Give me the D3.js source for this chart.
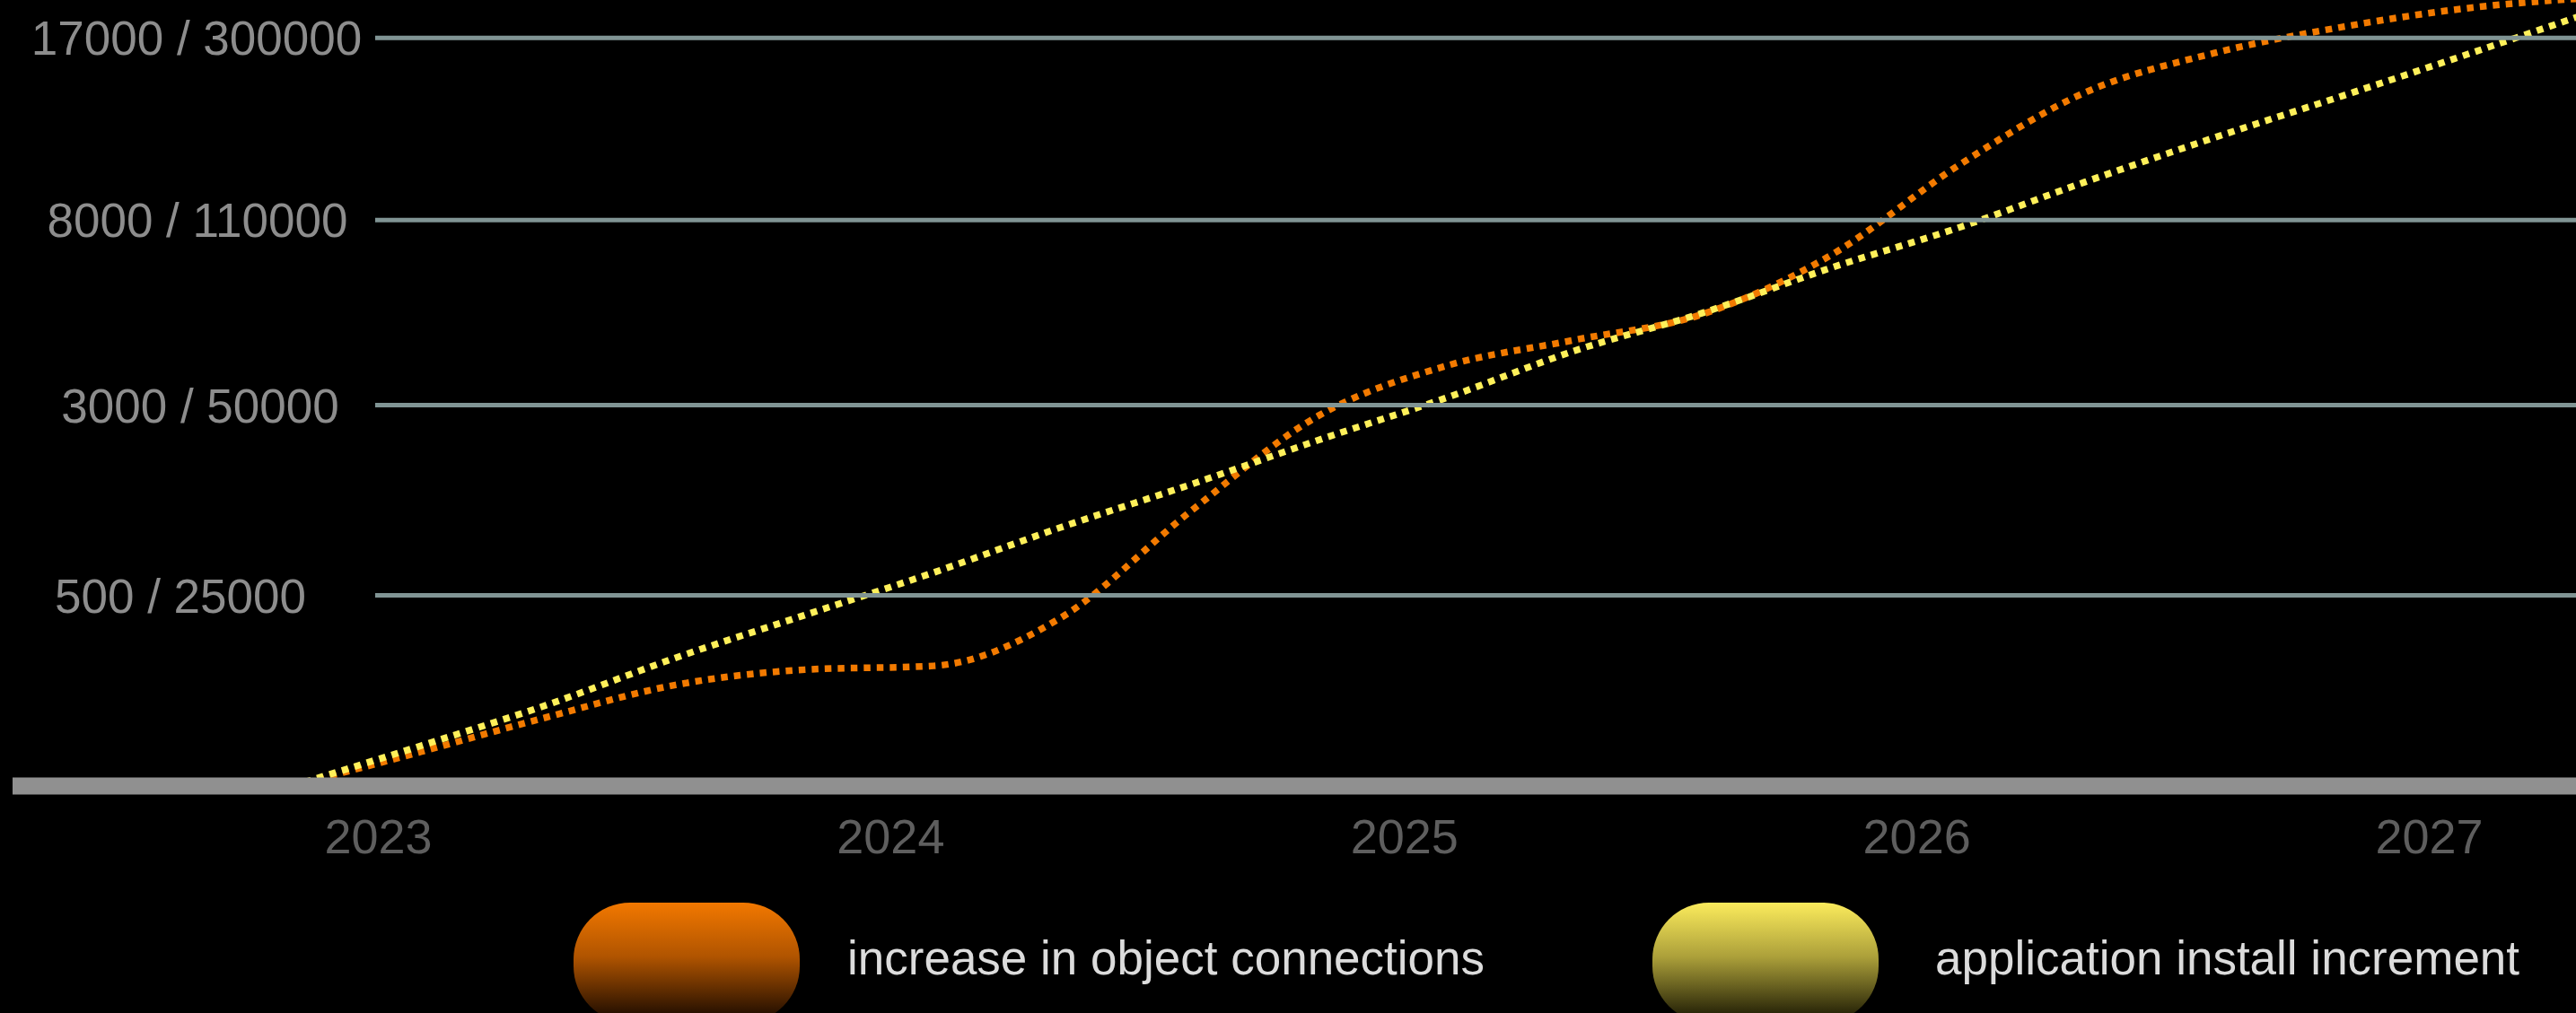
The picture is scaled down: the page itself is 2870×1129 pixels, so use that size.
<!DOCTYPE html>
<html>
<head>
<meta charset="utf-8">
<script src="https://cdn.jsdelivr.net/npm/d3@7"></script>
<style>
  html, body { margin: 0; padding: 0; background: #000; overflow: hidden; }
  svg { display: block; }
  text { font-family: "Liberation Sans", Arial, Helvetica, sans-serif; }
</style>
</head>
<body>
<svg id="chart" width="2870" height="1129"></svg>
<script>
// ---------- data ----------
const dates = [
  "2022-11-01", "2023-02-01", "2023-05-01", "2023-08-01", "2023-11-01",
  "2024-02-01", "2024-05-01", "2024-08-01", "2024-11-01",
  "2025-02-01", "2025-05-01", "2025-08-01", "2025-11-01",
  "2026-02-01", "2026-05-01", "2026-08-01", "2026-11-01",
  "2027-02-01", "2027-05-01"
];
const objectConnections = [
  0, 90, 180, 265, 305, 315, 440, 1590, 2860, 4070,
  4750, 5450, 7050, 10750, 14300, 16250, 17550, 18500, 19000
];
const appInstalls = [
  0, 5300, 10600, 16800, 22400, 28000, 33900, 39500, 45400, 52500,
  67400, 79800, 94500, 107700, 149700, 195900, 239800, 284700, 329000
];
const yTicksObject = [500, 3000, 8000, 17000];
const yTicksApp = [25000, 50000, 110000, 300000];
const yearTicks = [2023, 2024, 2025, 2026, 2027];
const seriesNames = ["increase in object connections", "application install increment"];
const seriesColors = ["#f27a00", "#fff05a"];

// ---------- layout ----------
const W = 2870, H = 1129;
const baseY = 876;
const yRange = [baseY, 663.5, 451.5, 245.3, 42.3];
const yLabelCenterX = [201, 223, 220, 219];
const parse = d3.timeParse("%Y-%m-%d");

const svg = d3.select("#chart");

const x = d3.scaleTime()
  .domain([new Date(2023, 0, 1), new Date(2027, 0, 1)])
  .range([421, 2706]);
const yObj = d3.scaleLinear().domain([0, ...yTicksObject]).range(yRange);
const yApp = d3.scaleLinear().domain([0, ...yTicksApp]).range(yRange);

// gradients for legend swatches
const defs = svg.append("defs");
const gradStops = [
  [["0%", "#f27800"], ["45%", "#b05400"], ["100%", "#120600"]],
  [["0%", "#fbeb5c"], ["45%", "#aca03a"], ["100%", "#141200"]]
];
gradStops.forEach((stops, i) => {
  const g = defs.append("linearGradient").attr("id", "lg" + i)
    .attr("x1", 0).attr("y1", 0).attr("x2", 0).attr("y2", 1);
  stops.forEach(s => g.append("stop").attr("offset", s[0]).attr("stop-color", s[1]));
});

// ---------- lines ----------
const series = [
  { name: seriesNames[0], values: objectConnections, y: yObj, color: seriesColors[0] },
  { name: seriesNames[1], values: appInstalls, y: yApp, color: seriesColors[1] }
];

series.forEach(s => {
  const pts = dates.map((d, i) => ({ date: parse(d), v: s.values[i] }));
  const line = d3.line()
    .x(d => x(d.date))
    .y(d => s.y(d.v))
    .curve(d3.curveMonotoneX);
  svg.append("path")
    .datum(pts)
    .attr("d", line)
    .attr("fill", "none")
    .attr("stroke", s.color)
    .attr("stroke-width", 7.5)
    .attr("stroke-dasharray", "7.5,7");
});

// ---------- gridlines ----------
svg.append("g").selectAll("line")
  .data(yTicksObject)
  .join("line")
  .attr("x1", 418).attr("x2", W)
  .attr("y1", d => yObj(d)).attr("y2", d => yObj(d))
  .attr("stroke", "#809494")
  .attr("stroke-width", 5);

// ---------- y axis labels ----------
const yAxis = d3.axisLeft(yObj)
  .tickValues(yTicksObject)
  .tickSize(0)
  .tickFormat((d, i) => `${d} / ${yTicksApp[i]}`);
const gy = svg.append("g").call(yAxis);
gy.select(".domain").remove();
gy.selectAll("text")
  .attr("x", (d, i) => yLabelCenterX[i])
  .attr("dy", "0.35em")
  .attr("text-anchor", "middle")
  .attr("fill", "#8d8d8d")
  .style("font-size", "53px");

// ---------- baseline bar ----------
svg.append("rect")
  .attr("x", 14).attr("y", baseY - 9.5)
  .attr("width", W - 14).attr("height", 19)
  .attr("fill", "#909090");

// ---------- x axis ----------
const xAxis = d3.axisBottom(x)
  .tickValues(yearTicks.map(yr => new Date(yr, 0, 1)))
  .tickSize(0)
  .tickFormat(d3.timeFormat("%Y"));
const gx = svg.append("g").attr("transform", `translate(0,${baseY})`).call(xAxis);
gx.select(".domain").remove();
gx.selectAll("text")
  .attr("y", 74.5)
  .attr("dy", 0)
  .attr("fill", "#5e5e5e")
  .style("font-size", "54px");

// ---------- legend ----------
const legendX = [639, 1841];
const legendTextX = [944, 2156];
const leg = svg.append("g");
series.forEach((s, i) => {
  leg.append("rect")
    .attr("x", legendX[i]).attr("y", 1006)
    .attr("width", 252).attr("height", 134)
    .attr("rx", 63).attr("ry", 63)
    .attr("fill", `url(#lg${i})`);
  leg.append("text")
    .attr("x", legendTextX[i]).attr("y", 1086)
    .attr("fill", "#dcdcdc")
    .style("font-size", "53px")
    .text(s.name);
});
</script>
</body>
</html>
